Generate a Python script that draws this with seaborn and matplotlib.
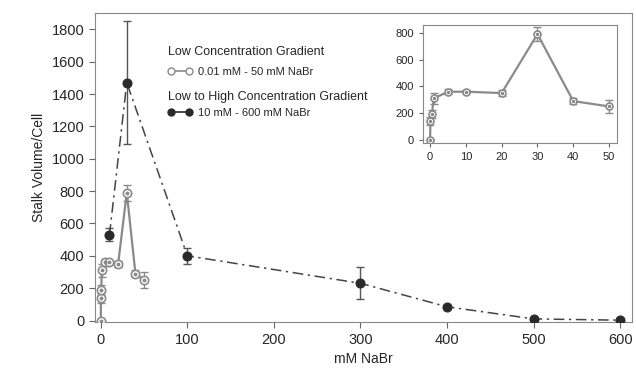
import numpy as np
import pandas as pd
import matplotlib
matplotlib.use("Agg")
import matplotlib.pyplot as plt
from matplotlib.lines import Line2D
import seaborn as sns

# low concentration gradient (0.01 - 50 mM)
low_x = [0, 0.1, 0.5, 1, 5, 10, 20, 30, 40, 50]
low_y = [0, 140, 190, 310, 360, 360, 350, 790, 290, 250]
low_err = [0, 30, 30, 40, 20, 10, 20, 50, 20, 50]

# low to high concentration gradient (10 - 600 mM)
high_x = [10, 30, 100, 300, 400, 500, 600]
high_y = [530, 1470, 400, 230, 85, 10, 2]
high_err = [40, 380, 50, 100, 10, 5, 5]

sns.set_style("ticks")
plt.rcParams['font.family'] = ['Liberation Sans', 'DejaVu Sans']

low_df = pd.DataFrame({'x': low_x, 'y': low_y})
high_df = pd.DataFrame({'x': high_x, 'y': high_y})

fig = plt.figure(figsize=(6.36, 3.75), dpi=100)
ax = fig.add_axes([0.149, 0.141, 0.845, 0.824])

gray = '#8a8a8a'
dark = '#2a2a2a'


def draw_low(a, ms):
    a.errorbar(low_x, low_y, yerr=low_err, fmt='none', ecolor=gray,
               elinewidth=1, capsize=3, zorder=2)
    sns.lineplot(data=low_df, x='x', y='y', ax=a, color=gray, lw=1.6,
                 marker='o', markersize=ms, markerfacecolor='white',
                 markeredgecolor=gray, markeredgewidth=1.2, zorder=3)
    a.plot(low_x, low_y, ls='none', marker='o', markersize=ms * 0.3,
           color=gray, zorder=4)


draw_low(ax, 6)
ax.errorbar(high_x, high_y, yerr=high_err, fmt='none', ecolor='#555555',
            elinewidth=1, capsize=3, zorder=2)
sns.lineplot(data=high_df, x='x', y='y', ax=ax, color='#444444', lw=1.1,
             marker='o', markersize=6.5, markerfacecolor=dark,
             markeredgecolor=dark, zorder=5)
ax.lines[-1].set_linestyle((0, (7, 3, 1.5, 3)))

ax.set_xlim(-7, 614)
ax.set_ylim(-10, 1900)
ax.set_xticks(range(0, 601, 100))
ax.set_yticks(range(0, 1801, 200))
ax.set_xlabel('mM NaBr', fontsize=10)
ax.set_ylabel('Stalk Volume/Cell', fontsize=10)
ax.tick_params(labelsize=10.5, direction='out', length=4, color='#666666')
for s in ax.spines.values():
    s.set_color('#888888')

# legends
h_low = Line2D([], [], color=gray, lw=1.2, marker='o', markersize=5,
               markerfacecolor='white', markeredgecolor=gray)
h_high = Line2D([], [], color=dark, lw=1.2, marker='o', markersize=5,
                markerfacecolor=dark, markeredgecolor=dark)
leg1 = ax.legend([h_low], ['0.01 mM - 50 mM NaBr'], title='Low Concentration Gradient',
                 loc='upper left', bbox_to_anchor=(0.121, 0.918), frameon=False,
                 fontsize=8, title_fontsize=9, handlelength=2.2, numpoints=2,
                 handletextpad=0.5, borderpad=0.2, labelspacing=0.6)
leg1._legend_box.align = 'left'
leg1._legend_box.sep = 6
ax.add_artist(leg1)
leg2 = ax.legend([h_high], ['10 mM - 600 mM NaBr'], title='Low to High Concentration Gradient',
                 loc='upper left', bbox_to_anchor=(0.121, 0.774), frameon=False,
                 fontsize=8, title_fontsize=9, handlelength=2.2, numpoints=2,
                 handletextpad=0.5, borderpad=0.2)
leg2._legend_box.align = 'left'

# inset
ins = fig.add_axes([0.665, 0.619, 0.305, 0.315])
draw_low(ins, 5)
ins.set_xlim(-2, 52.2)
ins.set_ylim(-22, 860)
ins.set_xticks(range(0, 51, 10))
ins.set_yticks(range(0, 801, 200))
ins.set_xlabel('')
ins.set_ylabel('')
ins.tick_params(labelsize=8, direction='out', length=3, color='#666666')
for s in ins.spines.values():
    s.set_color('#888888')

fig.savefig('out.png', dpi=100)
